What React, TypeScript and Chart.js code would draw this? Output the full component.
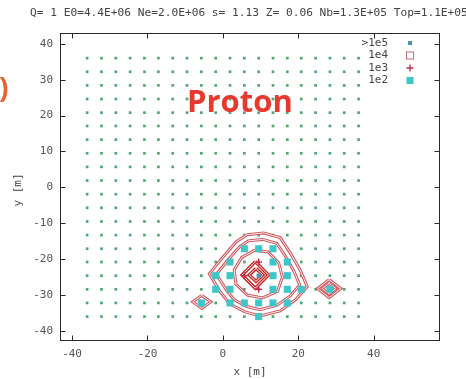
import React, { useEffect, useRef } from "react";
import { Chart, registerables } from "chart.js";

Chart.register(...registerables);

const TITLE = "Q= 1 E0=4.4E+06 Ne=2.0E+06 s= 1.13 Z= 0.06 Nb=1.3E+05 Top=1.1E+05";
const ANNOTATION = "Proton";

const xTicks = [-40, -20, 0, 20, 40];
const yTicks = [-40, -30, -20, -10, 0, 10, 20, 30, 40];
const xRange = [-43.2, 57.6];
const yRange = [-42.8, 43.0];

// detector positions (m)
const detX = [-36.0, -32.2, -28.4, -24.6, -20.8, -17.1, -13.3, -9.5, -5.7, -1.9, 1.9, 5.7, 9.5, 13.3, 17.1, 20.8, 24.6, 28.4, 32.2, 36.0];
const detY = [-36.0, -32.2, -28.4, -24.6, -20.8, -17.1, -13.3, -9.5, -5.7, -1.9, 1.9, 5.7, 9.5, 13.3, 17.1, 20.8, 24.6, 28.4, 32.2, 36.0];

// detectors by particle density class
const hits1e2X = [5.7, 9.5, 13.3, 1.9, 13.3, 17.1, -1.9, 1.9, 13.3, 17.1, -1.9, 1.9, 13.3, 17.1, 20.8, 28.4, -5.7, 1.9, 5.7, 9.5, 13.3, 17.1, 9.5];
const hits1e2Y = [-17.1, -17.1, -17.1, -20.8, -20.8, -20.8, -24.6, -24.6, -24.6, -24.6, -28.4, -28.4, -28.4, -28.4, -28.4, -28.4, -32.2, -32.2, -32.2, -32.2, -32.2, -32.2, -36.0];
const hits1e3X = [5.7, 9.5, 9.5];
const hits1e3Y = [-24.6, -20.8, -28.4];
const hits1e4X: number[] = [];
const hits1e4Y: number[] = [];
const hits1e5X = [9.5];
const hits1e5Y = [-24.6];

// density contours (closed polygons)
const c1X = [6.4, 10.8, 15.2, 17.9, 20.5, 22.4, 19.2, 15.2, 9.9, 5.9, 1.9, -0.7, -3.6, -0.2, 3.5];
const c1Y = [-13.2, -12.7, -14.0, -18.3, -23.0, -27.7, -31.4, -34.4, -35.8, -34.7, -32.5, -29.1, -24.1, -19.7, -15.2];
const c2X = [6.8, 10.6, 14.3, 16.6, 18.8, 20.4, 17.7, 14.3, 9.8, 6.4, 3.0, 0.8, -1.7, 1.2, 4.4];
const c2Y = [-14.9, -14.5, -15.6, -19.2, -23.2, -27.2, -30.4, -32.9, -34.1, -33.2, -31.3, -28.4, -24.2, -20.4, -16.6];
const c3X = [8.5, 12.0, 14.8, 15.8, 14.5, 10.5, 6.5, 3.5, 3.0, 5.0];
const c3Y = [-17.5, -18.0, -21.0, -25.0, -29.0, -30.8, -30.0, -27.0, -23.0, -19.5];
const c4X = [8.6, 12.1, 8.6, 5.1];
const c4Y = [-20.7, -24.4, -28.1, -24.4];
const c5X = [8.8, 10.6, 8.8, 7.0];
const c5Y = [-22.6, -24.4, -26.2, -24.4];
const c6X = [28.2, 31.3, 28.2, 25.1];
const c6Y = [-25.7, -28.2, -30.7, -28.2];
const c7X = [28.2, 30.0, 28.2, 26.4];
const c7Y = [-26.7, -28.2, -29.7, -28.2];
const c8X = [-5.6, -3.2, -5.6, -8.0];
const c8Y = [-30.1, -31.9, -33.7, -31.9];

const legendLabels = [">1e5", "1e4", "1e3", "1e2"];

const DOT = "#4ea872";
const TEAL = "#3ec6c8";
const BLUE = "#4a94b4";
const PINK = "#c86878";
const RED = "#c42a48";
const MONO = '"DejaVu Sans Mono", monospace';

const pts = (xs: number[], ys: number[]) => xs.map((x, i) => ({ x, y: ys[i] }));
const closed = (xs: number[], ys: number[]) => [...pts(xs, ys), { x: xs[0], y: ys[0] }];

export default function App() {
  const ref = useRef<HTMLCanvasElement | null>(null);

  useEffect(() => {
    const canvas = ref.current;
    if (!canvas) return;

    const grid: { x: number; y: number }[] = [];
    detY.forEach((y) => detX.forEach((x) => grid.push({ x, y })));

    const contours = [
      { xs: c1X, ys: c1Y, dark: false },
      { xs: c2X, ys: c2Y, dark: false },
      { xs: c3X, ys: c3Y, dark: false },
      { xs: c4X, ys: c4Y, dark: true },
      { xs: c5X, ys: c5Y, dark: true },
      { xs: c6X, ys: c6Y, dark: false },
      { xs: c7X, ys: c7Y, dark: false },
      { xs: c8X, ys: c8Y, dark: false },
    ];

    const contourSets: any[] = [];
    contours.forEach((c) => {
      const data = closed(c.xs, c.ys);
      contourSets.push({
        data,
        showLine: true,
        borderColor: c.dark ? "#c82828" : "#d45a62",
        borderWidth: c.dark ? 3.4 : 3,
        pointRadius: 0,
        fill: false,
        tension: 0,
        order: 6,
      });
      contourSets.push({
        data,
        showLine: true,
        borderColor: "#fbeeee",
        borderWidth: 1,
        pointRadius: 0,
        fill: false,
        tension: 0,
        order: 5,
      });
    });

    const datasets: any[] = [
      {
        data: grid,
        pointStyle: "rect",
        pointRadius: 1.9,
        backgroundColor: DOT,
        borderWidth: 0,
        order: 10,
      },
      ...contourSets,
      {
        data: pts(hits1e2X, hits1e2Y),
        pointStyle: "rect",
        pointRadius: 5,
        backgroundColor: TEAL,
        borderWidth: 0,
        order: 3,
      },
      {
        data: pts(hits1e3X, hits1e3Y),
        pointStyle: "cross",
        pointRadius: 3.5,
        borderColor: RED,
        borderWidth: 1.3,
        order: 2,
      },
      {
        data: pts(hits1e4X, hits1e4Y),
        pointStyle: "rect",
        pointRadius: 5,
        backgroundColor: "rgba(0,0,0,0)",
        borderColor: PINK,
        borderWidth: 1,
        order: 2,
      },
      {
        data: pts(hits1e5X, hits1e5Y),
        pointStyle: "rect",
        pointRadius: 3,
        backgroundColor: BLUE,
        borderWidth: 0,
        order: 1,
      },
    ];

    const frame = {
      id: "frame",
      afterDraw(chart: any) {
        const ctx = chart.ctx;
        const { left, right, top, bottom } = chart.chartArea;
        const xs = chart.scales.x;
        const ys = chart.scales.y;
        const L = Math.round(left) + 0.5;
        const R = Math.round(right) - 0.5;
        const T = Math.round(top) + 0.5;
        const B = Math.round(bottom) - 0.5;
        ctx.save();
        ctx.strokeStyle = "#2a2a2a";
        ctx.lineWidth = 1;
        ctx.strokeRect(L, T, R - L, B - T);
        ctx.beginPath();
        xTicks.forEach((v) => {
          const p = Math.round(xs.getPixelForValue(v)) + 0.5;
          ctx.moveTo(p, B);
          ctx.lineTo(p, B - 5);
          ctx.moveTo(p, T);
          ctx.lineTo(p, T + 5);
        });
        yTicks.forEach((v) => {
          const p = Math.round(ys.getPixelForValue(v)) + 0.5;
          ctx.moveTo(L, p);
          ctx.lineTo(L + 5, p);
          ctx.moveTo(R, p);
          ctx.lineTo(R - 5, p);
        });
        ctx.stroke();

        // title
        ctx.fillStyle = "#444";
        ctx.font = `11.2px ${MONO}`;
        ctx.textAlign = "left";
        ctx.textBaseline = "middle";
        ctx.fillText(TITLE, 30, 13);

        // axis titles
        ctx.font = `11px ${MONO}`;
        ctx.textAlign = "center";
        ctx.fillText("x [m]", 250, 372);
        ctx.save();
        ctx.translate(18, 190);
        ctx.rotate(-Math.PI / 2);
        ctx.fillText("y [m]", 0, 0);
        ctx.restore();

        // key
        const rows = [43, 55.5, 68, 80.5];
        ctx.textAlign = "right";
        legendLabels.forEach((t, i) => ctx.fillText(t, 388, rows[i]));
        const mx = 410;
        ctx.fillStyle = BLUE;
        ctx.fillRect(mx - 2, rows[0] - 2, 4, 4);
        ctx.strokeStyle = PINK;
        ctx.strokeRect(mx - 3.5, rows[1] - 3.5, 7, 7);
        ctx.strokeStyle = RED;
        ctx.lineWidth = 1.3;
        ctx.beginPath();
        ctx.moveTo(mx - 3.5, rows[2]);
        ctx.lineTo(mx + 3.5, rows[2]);
        ctx.moveTo(mx, rows[2] - 3.5);
        ctx.lineTo(mx, rows[2] + 3.5);
        ctx.stroke();
        ctx.fillStyle = TEAL;
        ctx.fillRect(mx - 3.5, rows[3] - 3.5, 7, 7);

        // annotation
        ctx.fillStyle = "#e8392f";
        ctx.font = 'bold 31px "Open Sans", sans-serif';
        ctx.textAlign = "left";
        ctx.textBaseline = "alphabetic";
        ctx.fillText(ANNOTATION, 187, 112);
        ctx.fillStyle = "#e8622c";
        ctx.font = 'bold 28px "Open Sans", sans-serif';
        ctx.fillText(")", -1, 98);
        ctx.restore();
      },
    };

    const chart = new Chart(canvas, {
      type: "scatter",
      data: { datasets },
      options: {
        responsive: false,
        animation: false,
        events: [],
        layout: { padding: { top: 33, right: 26, left: 0, bottom: 0 } },
        plugins: {
          legend: { display: false },
          tooltip: { enabled: false },
          title: { display: false },
        },
        scales: {
          x: {
            type: "linear",
            min: xRange[0],
            max: xRange[1],
            grid: { display: false, drawTicks: false },
            border: { display: false },
            afterBuildTicks: (axis: any) => {
              axis.ticks = xTicks.map((value) => ({ value }));
            },
            afterFit: (axis: any) => {
              axis.height = 38;
            },
            ticks: {
              color: "#555",
              font: { family: MONO, size: 11 },
              padding: 7,
              maxRotation: 0,
              autoSkip: false,
            },
          },
          y: {
            type: "linear",
            min: yRange[0],
            max: yRange[1],
            grid: { display: false, drawTicks: false },
            border: { display: false },
            afterBuildTicks: (axis: any) => {
              axis.ticks = yTicks.map((value) => ({ value }));
            },
            afterFit: (axis: any) => {
              axis.width = 60;
            },
            ticks: {
              color: "#555",
              font: { family: MONO, size: 11 },
              padding: 7,
              autoSkip: false,
            },
          },
        },
      },
      plugins: [frame],
    });

    return () => chart.destroy();
  }, []);

  return (
    <div style={{ position: "fixed", left: 0, top: 0, width: 466, height: 379, background: "#fff" }}>
      <canvas ref={ref} width={466} height={379} style={{ width: 466, height: 379, display: "block" }} />
    </div>
  );
}
